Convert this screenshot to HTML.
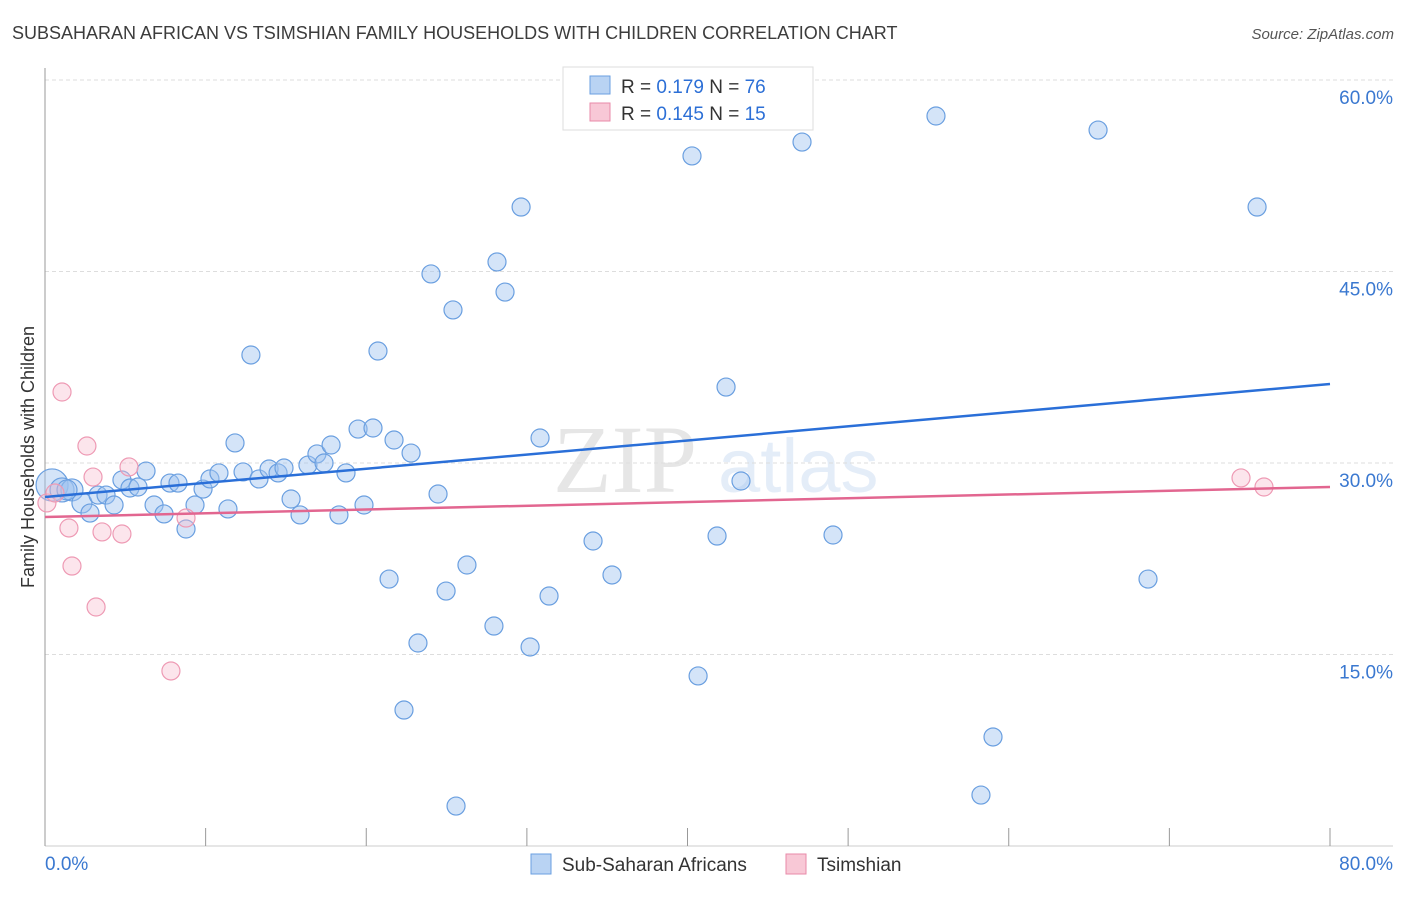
<!DOCTYPE html>
<html><head><meta charset="utf-8"><style>
body{margin:0;background:#fff;font-family:"Liberation Sans",sans-serif}
</style></head><body>
<svg id="chart" width="1406" height="892" xmlns="http://www.w3.org/2000/svg" font-family="Liberation Sans, sans-serif">
<text x="12" y="39" font-size="18" fill="#3c3c3c">SUBSAHARAN AFRICAN VS TSIMSHIAN FAMILY HOUSEHOLDS WITH CHILDREN CORRELATION CHART</text>
<text x="1394" y="39" font-size="15" fill="#555" text-anchor="end" font-style="italic">Source: ZipAtlas.com</text>
<g opacity="0.13">
<text x="553" y="492" font-size="96" font-family="Liberation Serif, serif" fill="#444">ZIP</text>
<text x="718" y="492" font-size="76" fill="#3a78d0">atlas</text>
</g>
<g id="grid"></g>
<g id="axes"></g>
<g id="pts"></g>
<g id="trend"></g>
<text transform="translate(34,457) rotate(-90)" font-size="18" fill="#333" text-anchor="middle">Family Households with Children</text>
<g>
<rect x="563" y="67" width="250" height="63" fill="#fff" stroke="#ddd"/>
<rect x="590" y="76" width="20" height="18" fill="#b9d3f3" stroke="#6a9fe0"/>
<text x="621" y="93" font-size="19" fill="#333">R = <tspan fill="#2c6fd6">0.179</tspan>   N = <tspan fill="#2c6fd6">76</tspan></text>
<rect x="590" y="103" width="20" height="18" fill="#f8c8d6" stroke="#e88aa8"/>
<text x="621" y="120" font-size="19" fill="#333">R = <tspan fill="#2c6fd6">0.145</tspan>   N = <tspan fill="#2c6fd6">15</tspan></text>
</g>
<g>
<rect x="531" y="854" width="20" height="20" fill="#b9d3f3" stroke="#6a9fe0"/>
<text x="562" y="871" font-size="19" fill="#333">Sub-Saharan Africans</text>
<rect x="786" y="854" width="20" height="20" fill="#f8c8d6" stroke="#e88aa8"/>
<text x="817" y="871" font-size="19" fill="#333">Tsimshian</text>
</g>
</svg>
<script>
const blueX=[0.44,1.06,1.68,1.37,2.30,2.80,3.30,3.80,4.30,4.79,5.29,5.79,6.29,6.79,7.41,7.78,8.28,8.78,9.34,9.84,10.27,10.83,11.39,11.83,12.33,12.82,13.32,13.95,14.51,14.88,15.32,15.88,16.37,16.93,17.37,17.81,18.30,18.74,19.49,19.86,20.42,20.73,21.42,21.73,22.35,22.79,23.22,24.03,24.47,24.97,25.40,25.59,26.27,27.95,28.14,28.64,29.64,30.20,30.82,31.38,33.62,34.12,35.30,40.28,40.66,41.84,42.40,43.33,47.13,49.06,55.47,58.27,59.02,65.56,68.67,75.46];
const blueY=[28.28,27.89,27.89,27.89,26.87,26.08,27.49,27.49,26.71,28.67,28.04,28.12,29.37,26.71,26.01,28.43,28.43,24.83,26.71,27.96,28.75,29.22,26.40,31.57,29.30,38.46,28.75,29.53,29.22,29.61,27.18,25.93,29.84,30.71,30.00,31.41,25.93,29.22,32.66,26.71,32.74,38.77,20.91,31.80,10.65,30.78,15.90,44.81,27.57,19.97,41.99,3.13,22.01,17.23,45.75,43.39,50.05,15.59,31.96,19.58,58.43,23.89,21.23,54.05,13.32,24.28,35.95,28.59,55.14,24.36,57.18,3.99,8.54,56.08,20.91,50.05];
const blueR=[16,12,11,10,10,9,9,9,9,9,9,9,9,9,9,9,9,9,9,9,9,9,9,9,9,9,9,9,9,9,9,9,9,9,9,9,9,9,9,9,9,9,9,9,9,9,9,9,9,9,9,9,9,9,9,9,9,9,9,9,9,9,9,9,9,9,9,9,9,9,9,9,9,9,9,9];
const pinkX=[0.12,0.62,1.06,1.49,1.68,2.61,2.99,3.18,3.55,4.79,5.23,7.84,8.78,74.46,75.89];
const pinkY=[26.87,27.65,35.56,24.91,21.93,31.33,28.90,18.72,24.60,24.44,29.69,13.71,25.69,28.83,28.12];
const blueTrend=[27.34,36.19];
const pinkTrend=[25.77,28.12];
const yTicks=[15,30,45,60];
const yTickLabels=["15.0%","30.0%","45.0%","60.0%"];
const xTicks=[0,10,20,30,40,50,60,70,80];
const xLabels=["0.0%","80.0%"];
const NS="http://www.w3.org/2000/svg";
const X0=45,X1=1330,Y0=846,PXY=191.5/15;
const sx=v=>X0+v/80*(X1-X0);
const sy=v=>Y0-v*PXY;
function mk(tag,attrs,parent){const e=document.createElementNS(NS,tag);for(const k in attrs)e.setAttribute(k,attrs[k]);document.getElementById(parent).appendChild(e);return e;}
yTicks.forEach((t,i)=>{
 const l=mk('line',{x1:X0,x2:1393,y1:sy(t),y2:sy(t),stroke:'#ddd','stroke-dasharray':'4,3'},'grid');
 
 
 const tx=mk('text',{x:1393,y:sy(t)+24,'font-size':19,fill:'#3a78d0','text-anchor':'end'},'grid');
 tx.textContent=yTickLabels[i];
 
 
});
const ax=mk('line',{x1:X0,x2:X0,y1:68,y2:Y0,stroke:'#999'},'axes');


const bx=mk('line',{x1:X0,x2:1393,y1:Y0,y2:Y0,stroke:'#ccc'},'axes');


xTicks.forEach(t=>{
 const l=mk('line',{x1:sx(t),x2:sx(t),y1:828,y2:Y0,stroke:'#999'},'axes');
 
 
});
[[0,'start',45],[80,'end',1393]].forEach((d,i)=>{
 const tx=mk('text',{x:d[2],y:870,'font-size':19,fill:'#3a78d0','text-anchor':d[1]},'axes');
 tx.textContent=xLabels[i];
 
 
});
blueX.forEach((v,i)=>{
 const c=mk('circle',{cx:sx(v),cy:sy(blueY[i]),r:blueR[i],fill:'rgba(160,195,240,0.45)',stroke:'#6a9fe0','stroke-width':1.2},'pts');
 
 
});
pinkX.forEach((v,i)=>{
 const c=mk('circle',{cx:sx(v),cy:sy(pinkY[i]),r:9,fill:'rgba(248,190,208,0.4)',stroke:'#ee9ab4','stroke-width':1.2},'pts');
 
 
});
const bl=mk('line',{x1:sx(0),x2:sx(80),y1:sy(blueTrend[0]),y2:sy(blueTrend[1]),stroke:'#2a6fd8','stroke-width':2.5},'trend');


const pl=mk('line',{x1:sx(0),x2:sx(80),y1:sy(pinkTrend[0]),y2:sy(pinkTrend[1]),stroke:'#e26690','stroke-width':2.5},'trend');


</script>
</body></html>
